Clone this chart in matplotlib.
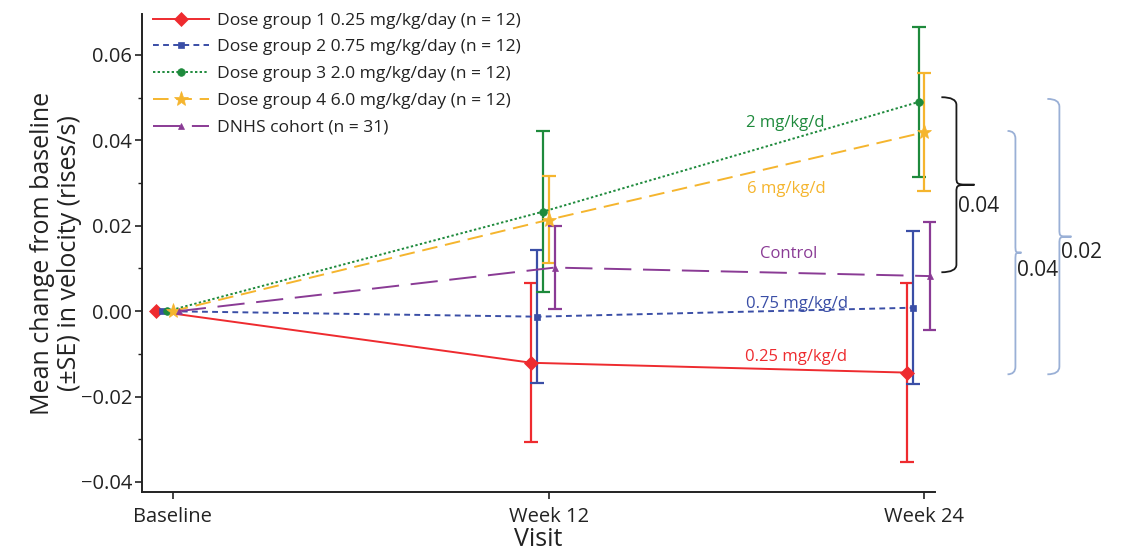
import matplotlib
matplotlib.use("Agg")
import matplotlib.pyplot as plt
from matplotlib.path import Path
from matplotlib.patches import PathPatch
from matplotlib.ticker import MultipleLocator

plt.rcParams['font.family'] = ['Open Sans', 'DejaVu Sans']

# ---------------- data ----------------
visits = ['Baseline', 'Week 12', 'Week 24']

series_names = [
    'Dose group 1 0.25 mg/kg/day (n = 12)',
    'Dose group 2 0.75 mg/kg/day (n = 12)',
    'Dose group 3 2.0 mg/kg/day (n = 12)',
    'Dose group 4 6.0 mg/kg/day (n = 12)',
    'DNHS cohort (n = 31)',
]
dose1_mean = [0.0, -0.0121, -0.0144]
dose1_se = [0.0, 0.0186, 0.0210]
dose2_mean = [0.0, -0.0013, 0.0008]
dose2_se = [0.0, 0.0156, 0.0179]
dose3_mean = [0.0, 0.0233, 0.0490]
dose3_se = [0.0, 0.0189, 0.0176]
dose4_mean = [0.0, 0.0214, 0.0419]
dose4_se = [0.0, 0.0102, 0.0138]
dnhs_mean = [0.0, 0.0102, 0.0082]
dnhs_se = [0.0, 0.0097, 0.0126]

curve_labels = ['0.25 mg/kg/d', '0.75 mg/kg/d', '2 mg/kg/d', '6 mg/kg/d', 'Control']
curve_label_y = [-0.0108, 0.0016, 0.0440, 0.0286, 0.0133]

# bracket annotations: (top value, bottom value, label)
bracket_top = [0.0501, 0.0422, 0.0497]
bracket_bottom = [0.0091, -0.0148, -0.0148]
bracket_text = ['0.04', '0.04', '0.02']

# ---------------- style ----------------
means = [dose1_mean, dose2_mean, dose3_mean, dose4_mean, dnhs_mean]
ses = [dose1_se, dose2_se, dose3_se, dose4_se, dnhs_se]
colors = ['#ee2b2f', '#3a4ea6', '#1e8a3c', '#f5b52e', '#8a3b95']
markers = ['D', 's', 'o', '*', '^']
msizes = [7, 5, 5.5, 11, 4.5]
dashes = [None, (3, 2.2), (1.2, 1.2), (8, 4), (14, 6)]
offsets = [-0.046, -0.030, -0.015, 0.0, 0.016]

fig = plt.figure(figsize=(11.22, 5.58), dpi=100)
ax = fig.add_axes([0.1266, 0.118, 0.7064, 0.857])

handles = []
for i in range(5):
    xs = [k + offsets[i] for k in range(len(visits))]
    ln, = ax.plot(xs, means[i], color=colors[i], lw=1.4, marker=markers[i],
                  ms=msizes[i], markeredgewidth=0.5, markeredgecolor=colors[i],
                  zorder=3)
    if dashes[i] is not None:
        ln.set_dashes(dashes[i])
    ax.errorbar(xs[1:], means[i][1:], yerr=ses[i][1:], fmt='none',
                ecolor=colors[i], elinewidth=1.6, capsize=5, capthick=1.6,
                zorder=2)
    handles.append(ln)

ax.set_xlim(-0.082, 2.027)
ax.set_ylim(-0.0424, 0.0696)
ax.set_xticks(range(len(visits)))
ax.set_xticklabels(visits, fontsize=14.5, color='#222222')
ax.yaxis.set_minor_locator(MultipleLocator(0.01))
ax.set_yticks([-0.04, -0.02, 0.0, 0.02, 0.04, 0.06])
ax.set_yticklabels(['\u22120.04', '\u22120.02', '0.00', '0.02', '0.04', '0.06'],
                   fontsize=14.5, color='#222222')
ax.tick_params(axis='both', which='major', direction='out', length=5, width=1.2, color='#222222')
ax.tick_params(axis='y', which='minor', direction='out', length=3, width=1.0, color='#222222')
ax.tick_params(axis='x', pad=6)
ax.tick_params(axis='y', pad=2)
for s in ['top', 'right']:
    ax.spines[s].set_visible(False)
for s in ['left', 'bottom']:
    ax.spines[s].set_linewidth(1.4)
    ax.spines[s].set_color('#222222')

ax.set_xlabel('Visit', fontsize=18, labelpad=0, color='#222222')
ax.set_ylabel('Mean change from baseline\n(\u00b1SE) in velocity (rises/s)', fontsize=18,
              labelpad=-1, color='#222222', linespacing=1.1)

leg = ax.legend(handles, series_names, loc='upper left', bbox_to_anchor=(0.0, 1.025),
                frameon=False, fontsize=12.6, handlelength=3.2, handletextpad=0.5,
                labelspacing=0.6, borderaxespad=0.2)
for t in leg.get_texts():
    t.set_color('#222222')

# curve labels
label_x = [1.657, 1.660, 1.630, 1.633, 1.638]
for i in range(5):
    ax.text(label_x[i], curve_label_y[i], curve_labels[i], color=colors[i], fontsize=12,
            ha='center', va='center')

# curly brackets outside axes
def brace(x0, x1, xtip, ytop, ybot, color, lw=1.3, ry=0.0018):
    ymid = (ytop + ybot) / 2
    verts = [
        (x0, ytop), (x1, ytop), (x1, ytop - ry),
        (x1, ymid + ry),
        (x1, ymid), (x1, ymid), (xtip, ymid),
        (x1, ymid), (x1, ymid), (x1, ymid - ry),
        (x1, ybot + ry),
        (x1, ybot), (x0, ybot),
    ]
    codes = [Path.MOVETO, Path.CURVE3, Path.CURVE3,
             Path.LINETO,
             Path.CURVE4, Path.CURVE4, Path.CURVE4,
             Path.CURVE4, Path.CURVE4, Path.CURVE4,
             Path.LINETO,
             Path.CURVE3, Path.CURVE3]
    p = PathPatch(Path(verts, codes), fill=False, edgecolor=color, lw=lw, clip_on=False)
    ax.add_patch(p)
    return ymid

bx = [(2.045, 2.085, 2.133), (2.221, 2.242, 2.258), (2.327, 2.359, 2.391)]
bcol = ['#1a1a1a', '#9ab0d6', '#9ab0d6']
btx = [(2.088, 0.0244), (2.245, 0.0096), (2.364, 0.0138)]
for i in range(3):
    brace(bx[i][0], bx[i][1], bx[i][2], bracket_top[i], bracket_bottom[i], bcol[i])
    ax.text(btx[i][0], btx[i][1], bracket_text[i], fontsize=15, color='#222222',
            ha='left', va='center', clip_on=False)

fig.savefig('out.png', dpi=100)
